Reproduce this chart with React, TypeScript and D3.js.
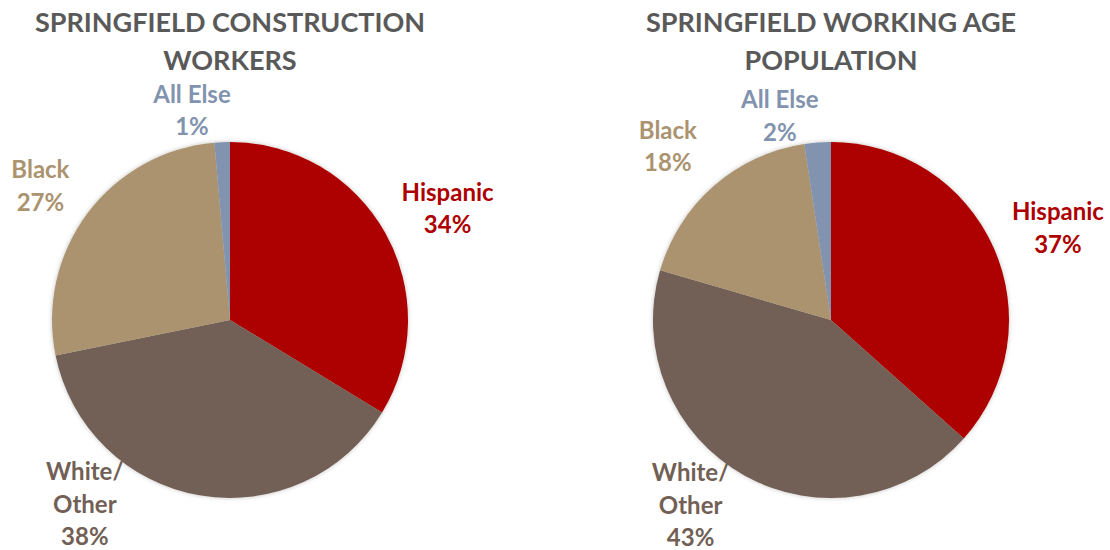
import React from 'react';
import * as d3 from 'd3';

// Data
const categories = ['Hispanic', 'White/Other', 'Black', 'All Else'];
const labelLines = [['Hispanic'], ['White/', 'Other'], ['Black'], ['All Else']];
const constructionValues = [33.7, 38.1, 26.8, 1.4];
const workingAgeValues = [36.6, 42.9, 18.1, 2.4];
const constructionTitle = ['SPRINGFIELD CONSTRUCTION', 'WORKERS'];
const workingAgeTitle = ['SPRINGFIELD WORKING AGE', 'POPULATION'];

const colors = ['#AD0000', '#725F55', '#AB936F', '#8193AE'];

const W = 1110;
const H = 550;
const R = 178;
const FONT = 'Lato, "Open Sans", sans-serif';

// manual label nudges (Excel moved some labels), per chart
const constructionNudges = [[19, 0], [-106, -40], [-7, 2], [-28, 18]];
const workingAgeNudges = [[19, 1], [-30, -14], [-13, -2], [-34, 23]];

const color = d3.scaleOrdinal<string, string>().domain(categories).range(colors);

type PieProps = {
  cx: number;
  cy: number;
  title: string[];
  values: number[];
  nudges: number[][];
};

const Pie = ({ cx, cy, title, values, nudges }: PieProps) => {
  const pie = d3.pie<number>().sort(null).value(d => d);
  const arcs = pie(values);
  const arc = d3.arc<d3.PieArcDatum<number>>().innerRadius(0).outerRadius(R);
  const labelArc = d3.arc<d3.PieArcDatum<number>>().innerRadius(R * 1.28).outerRadius(R * 1.28);
  const total = d3.sum(values);
  const lineH = 32.5;

  return (
    <g>
      {title.map((t, i) => (
        <text key={i} x={cx} y={32 + i * 38} textAnchor="middle" fill="#595959"
          fontFamily={FONT} fontWeight={700} fontSize={27}>{t}</text>
      ))}
      <g transform={`translate(${cx},${cy})`} filter="url(#shadow)">
        {arcs.map((a, i) => (
          <path key={i} d={arc(a) || ''} fill={color(categories[i])} />
        ))}
      </g>
      <g transform={`translate(${cx},${cy})`}>
        {arcs.map((a, i) => {
          const [lx, ly] = labelArc.centroid(a);
          const x = lx + nudges[i][0];
          const y = ly + nudges[i][1];
          const lines = [...labelLines[i], `${Math.round((a.data / total) * 100)}%`];
          return (
            <text key={i} textAnchor="middle" fill={color(categories[i])}
              fontFamily={FONT} fontWeight={700} fontSize={24}>
              {lines.map((l, j) => (
                <tspan key={j} x={x} y={y + (j - (lines.length - 1) / 2) * lineH + 8.5}>{l}</tspan>
              ))}
            </text>
          );
        })}
      </g>
    </g>
  );
};

export default function App() {
  return (
    <svg width={W} height={H} style={{ position: 'absolute', left: 0, top: 0, background: '#fff' }}>
      <defs>
        <filter id="shadow" x="-10%" y="-10%" width="120%" height="120%">
          <feDropShadow dx="0" dy="0" stdDeviation="2" floodColor="#000" floodOpacity="0.25" />
        </filter>
      </defs>
      <Pie cx={230} cy={320} title={constructionTitle} values={constructionValues} nudges={constructionNudges} />
      <Pie cx={831} cy={320} title={workingAgeTitle} values={workingAgeValues} nudges={workingAgeNudges} />
    </svg>
  );
}
